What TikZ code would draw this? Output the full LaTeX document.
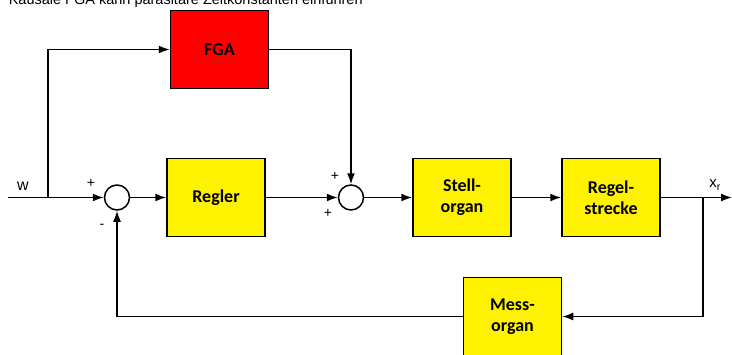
\documentclass[tikz,border=0pt]{standalone}
\usepackage{fontspec}
\setmainfont{Liberation Sans}
\newfontfamily\blockfont{Carlito}
\usetikzlibrary{arrows.meta}

\begin{document}
\begin{tikzpicture}[x=1pt, y=-1pt, line width=1.6pt, >={Latex[length=11pt,width=8pt]},
    block/.style={draw, line width=1.5pt, fill=yellow, minimum width=98pt, minimum height=78pt,
        align=center, font=\blockfont\bfseries\fontsize{18}{21}\selectfont},
    sum/.style={circle, draw, line width=1.5pt, fill=white, minimum size=25pt, inner sep=0pt},
    sign/.style={font=\fontsize{14}{16}\selectfont, inner sep=0pt}]
    \useasboundingbox (0,0) rectangle (732,354);

    % Title, cut at the top
    \node[anchor=base west, inner sep=0pt, font=\fontsize{14.5}{17}\selectfont] (title) at (8,4)
        {Kausale FGA kann parasitäre Zeitkonstanten einführen};

    % Blocks
    \node[block, fill=red] (fga) at (219.5,49.5) {FGA};
    \node[sum] (s1) at (117,197.5) {};
    \node[block] (regler) at (216,197.5) {Regler};
    \node[sum] (s2) at (351,197.5) {};
    \node[block] (stell) at (462,197.5) {Stell-\\organ};
    \node[block] (strecke) at (611,197.5) {Regel-\\strecke};
    \node[block] (mess) at (512.5,316.5) {Mess-\\organ};

    % Free ends and branch points
    \coordinate (in) at (8,197.5);
    \coordinate (branch) at (48,197.5);
    \coordinate (tap) at (703,197.5);
    \coordinate (out) at (732,197.5);

    % Edges
    \draw[->] (in) -- (s1);
    \draw[->] (branch) |- (fga);
    \draw[->] (s1) -- (regler);
    \draw[->] (regler) -- (s2);
    \draw[->] (fga.east) -| (s2);
    \draw[->] (s2) -- (stell);
    \draw[->] (stell) -- (strecke);
    \draw[->] (strecke) -- (out);
    \draw[->] (tap) |- (mess);
    \draw[->] (mess) -| (s1);

    % Labels
    \node[font=\fontsize{16}{18}\selectfont] (wlabel) at (23,186) {w};
    \node[font=\fontsize{15}{17}\selectfont] (xrlabel) at (715,185) {x\textsubscript{r}};
    \node[sign] (p1) at (91,183) {+};
    \node[sign] (m1) at (102,226) {-};
    \node[sign] (p2) at (335,176) {+};
    \node[sign] (p3) at (328,213) {+};
\end{tikzpicture}
\end{document}
